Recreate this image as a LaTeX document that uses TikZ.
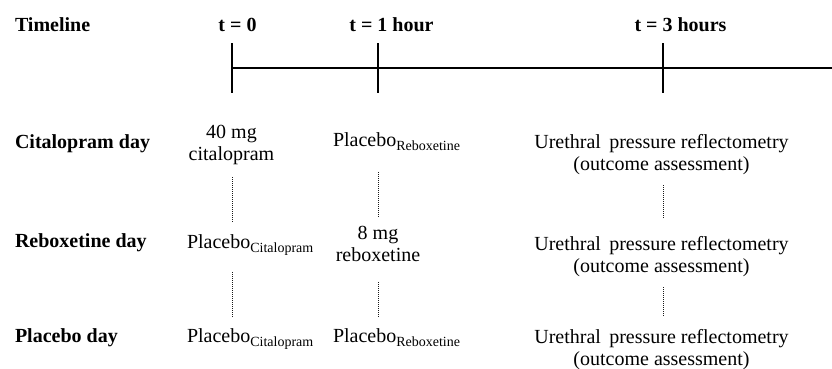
\documentclass[tikz,border=0pt]{standalone}
\usepackage{fontspec}
\setmainfont{Liberation Serif}
\newcommand{\subtext}[1]{\raisebox{-4.5pt}{\fontsize{14}{16}\selectfont #1}}
\begin{document}
\begin{tikzpicture}[x=1pt,y=-1pt,
  every node/.style={inner sep=0pt, outer sep=0pt, font=\fontsize{20}{22}\selectfont},
  hdr/.style={font=\fontsize{20}{22}\selectfont\bfseries, anchor=base},
  rowlbl/.style={font=\fontsize{20}{22}\selectfont\bfseries, anchor=base west},
  item/.style={anchor=base, align=center},
  itemw/.style={anchor=base west},
  axis/.style={line width=1.5pt},
  dotline/.style={line width=1pt, dash pattern=on 1pt off 1pt, black!90}]
\useasboundingbox (0,0) rectangle (832,368);
% header
\node[rowlbl] (tl) at (15,31) {Timeline};
\node[hdr] (h0) at (237.5,31) {t = 0};
\node[hdr] (h1) at (391.5,31) {t = 1 hour};
\node[hdr] (h3) at (680.5,31) {t = 3 hours};
% timeline
\coordinate (T0) at (232,68);
\coordinate (T1) at (378,68);
\coordinate (T3) at (663,68);
\coordinate (Tend) at (832,68);
\draw[axis] (T0) -- (Tend);
\foreach \t in {T0,T1,T3}{\draw[axis] ([yshift=25pt]\t) -- ([yshift=-25pt]\t);}
% row 1 (two-line nodes: base = last line)
\node[rowlbl] (r1) at (15,148) {Citalopram day};
\node[item] (a1) at (231.5,160) {40 mg\\citalopram};
\node[itemw] (b1) at (333,146) {Placebo\subtext{Reboxetine}};
\node[item] (c1) at (661.5,170) {Urethral\, pressure reflectometry\\(outcome assessment)};
% row 2
\node[rowlbl] (r2) at (15,247) {Reboxetine day};
\node[itemw] (a2) at (187,248) {Placebo\subtext{Citalopram}};
\node[item] (b2) at (378,261) {8 mg\\reboxetine};
\node[item] (c2) at (661.5,272) {Urethral\, pressure reflectometry\\(outcome assessment)};
% row 3
\node[rowlbl] (r3) at (15,342) {Placebo day};
\node[itemw] (a3) at (187,342) {Placebo\subtext{Citalopram}};
\node[itemw] (b3) at (333,342) {Placebo\subtext{Reboxetine}};
\node[item] (c3) at (661.5,365) {Urethral\, pressure reflectometry\\(outcome assessment)};
% dotted links
\coordinate (a1d) at (232,177); \coordinate (a2u) at (232,222);
\coordinate (b1d) at (378,172); \coordinate (b2u) at (378,217);
\coordinate (c1d) at (663,185); \coordinate (c2u) at (663,218);
\coordinate (a2d) at (232,272); \coordinate (a3u) at (232,317);
\coordinate (b2d) at (378,282); \coordinate (b3u) at (378,317);
\coordinate (c2d) at (663,287); \coordinate (c3u) at (663,317);
\draw[dotline] (a1d) -- (a2u);
\draw[dotline] (b1d) -- (b2u);
\draw[dotline] (c1d) -- (c2u);
\draw[dotline] (a2d) -- (a3u);
\draw[dotline] (b2d) -- (b3u);
\draw[dotline] (c2d) -- (c3u);
\end{tikzpicture}
\end{document}
